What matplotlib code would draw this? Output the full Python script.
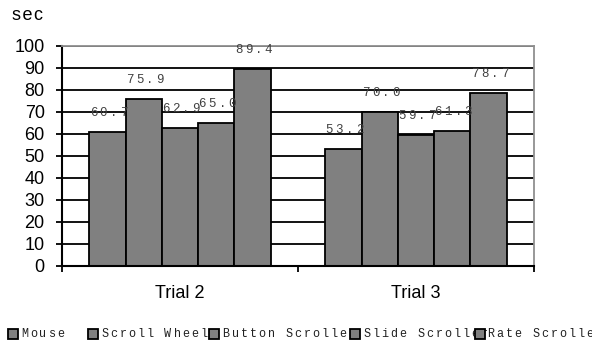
import matplotlib
matplotlib.use('Agg')
import matplotlib.pyplot as plt
from matplotlib.patches import Rectangle

# data
trials = ['Trial 2', 'Trial 3']
series = ['Mouse', 'Scroll Wheel', 'Button Scroller', 'Slide Scroller', 'Rate Scroller']
mouse = [60.7, 53.2]
scroll_wheel = [75.9, 70.0]
button_scroller = [62.9, 59.7]
slide_scroller = [65.0, 61.3]
rate_scroller = [89.4, 78.7]
values = [mouse, scroll_wheel, button_scroller, slide_scroller, rate_scroller]
yticks = list(range(0, 101, 10))

W, H = 592, 345
BAR = '#808080'
MONO = 'Liberation Mono'
SANS = 'Liberation Sans'

fig = plt.figure(figsize=(W / 100, H / 100), dpi=100)
ax = fig.add_axes([62 / W, 79 / H, 472 / W, 220 / H])

n = len(series)
width = 1 / 6.5
for i, vals in enumerate(values):
    xs = [k + 0.5 + (i - (n - 1) / 2) * width for k in range(len(trials))]
    ax.bar(xs, vals, width=width, color=BAR, edgecolor='black', linewidth=1.3, zorder=2)
    # excel style spaced-out value labels
    for x, v in zip(xs, vals):
        s = f'{v:.1f}'
        for j, ch in enumerate(s):
            dx = (j - (len(s) - 1) / 2) * 10
            ax.annotate(ch, xy=(x, v), xytext=(dx + 1, 19), textcoords='offset pixels',
                        ha='center', va='center', fontsize=9, family=MONO,
                        color='#404040', zorder=4, annotation_clip=False)

ax.set_xlim(0, len(trials))
ax.set_ylim(0, 100)
ax.set_yticks(yticks)
ax.set_yticklabels([str(t) for t in yticks], fontsize=13, family=SANS)
ax.yaxis.grid(True, color='black', linewidth=1.3, zorder=0)
ax.set_axisbelow(True)

ax.set_xticks(range(len(trials) + 1))
ax.set_xticklabels([])
ax.set_xticks([k + 0.5 for k in range(len(trials))], minor=True)
ax.set_xticklabels(trials, minor=True, fontsize=13, family=SANS)
ax.tick_params(axis='x', which='major', length=4, width=1.3, direction='out')
ax.tick_params(axis='x', which='minor', length=0, pad=14)
ax.tick_params(axis='y', length=4.5, width=1.3, direction='out', pad=8)

for side in ['left', 'bottom']:
    ax.spines[side].set_linewidth(1.5)
    ax.spines[side].set_color('black')
for side in ['top', 'right']:
    ax.spines[side].set_linewidth(1.3)
    ax.spines[side].set_color('#909090')

fig.text(12 / W, 1 - 16 / H, 's e c'.replace(' ', '\u200a'), fontsize=13, family=SANS,
         va='center', ha='left')

# hand-made legend with spaced characters, like the excel export
marker_x = [8, 88, 209, 350, 475]
text_x = [22, 102, 223, 364, 488]
ly = 334
for name, mx, tx in zip(series, marker_x, text_x):
    fig.patches.append(Rectangle((mx / W, 1 - (ly + 5) / H), 10 / W, 10 / H,
                                 transform=fig.transFigure, facecolor=BAR,
                                 edgecolor='black', linewidth=1.3, zorder=5))
    for j, ch in enumerate(name):
        fig.text((tx + 3 + j * 9) / W, 1 - ly / H, ch, fontsize=8.5, family=MONO,
                 color='#202020', ha='center', va='center', zorder=3)

fig.savefig('out.png', dpi=100)
